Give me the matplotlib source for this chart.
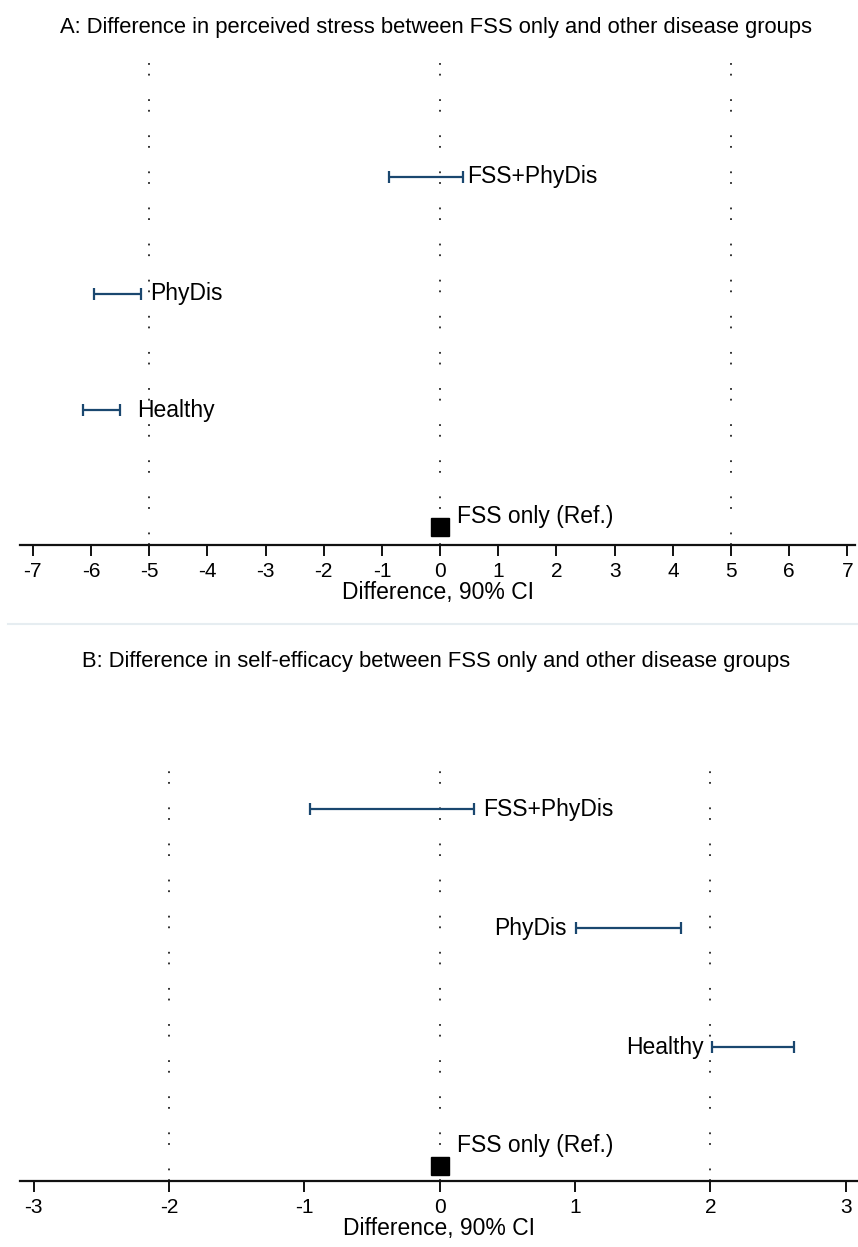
import matplotlib
matplotlib.use("Agg")
import matplotlib.pyplot as plt
from matplotlib.lines import Line2D

plt.rcParams.update({
    "font.family": ["Liberation Sans", "DejaVu Sans"],
    "lines.scale_dashes": False,
})

# ── data ─────────────────────────────────────────────────────────────────────
groups = ["FSS only (Ref.)", "Healthy", "PhyDis", "FSS+PhyDis"]
rows = [0, 1, 2, 3]

# panel A: perceived stress
a_est = [0.0]
a_lo = [-6.13, -5.95, -0.88]
a_hi = [-5.50, -5.14, 0.40]
a_lab_x = [0.29, -5.21, -4.98, 0.46]
a_lab_y = [0.09, 1.0, 2.0, 3.0]
a_lab_ha = ["left", "left", "left", "left"]
a_ticks = list(range(-7, 8))
a_vlines = [-5, 0, 5]

# panel B: self-efficacy
b_est = [0.0]
b_lo = [2.01, 1.01, -0.96]
b_hi = [2.62, 1.78, 0.25]
b_lab_x = [0.126, 1.95, 0.94, 0.32]
b_lab_y = [0.17, 1.0, 2.0, 3.0]
b_lab_ha = ["left", "right", "right", "left"]
b_ticks = list(range(-3, 4))
b_vlines = [-2, 0, 2]

CI_COLOR = "#1a476f"
W, H = 858, 1247
FS_TITLE = 15.8
FS_LAB = 16.5
FS_TICK = 15

fig = plt.figure(figsize=(W / 100, H / 100), dpi=100)


def panel(rect, title, title_y, lo, hi, est, lab_x, lab_y, lab_ha, ticks, vlines, xlim, ylim):
    ax = fig.add_axes(rect)
    ax.set_xlim(*xlim)
    ax.set_ylim(*ylim)
    for v in vlines:
        ax.axvline(v, color="#222222", lw=1.3, linestyle=(0, (1.3, 6.4, 1.3, 17)), zorder=1)
    mids = [(l + h) / 2 for l, h in zip(lo, hi)]
    errs = [[m - l for m, l in zip(mids, lo)], [h - m for m, h in zip(mids, hi)]]
    ax.errorbar(mids, rows[1:], xerr=errs, fmt="none", ecolor=CI_COLOR,
                elinewidth=1.6, capsize=4, capthick=1.6, zorder=3)
    ax.plot(est, rows[:1], marker="s", color="black", markersize=13, linestyle="none", zorder=4)
    for g, x, y, ha in zip(groups, lab_x, lab_y, lab_ha):
        ax.text(x, y, g, ha=ha, va="center", fontsize=FS_LAB, color="black")
    for s in ["top", "right", "left"]:
        ax.spines[s].set_visible(False)
    ax.spines["bottom"].set_linewidth(1.6)
    ax.spines["bottom"].set_color("#111111")
    ax.set_yticks([])
    ax.set_xticks(ticks)
    ax.set_xticklabels([str(t) for t in ticks], fontsize=FS_TICK)
    ax.tick_params(axis="x", length=8, width=1.4, pad=4, color="#111111")
    ax.set_xlabel("Difference, 90% CI", fontsize=FS_LAB, labelpad=0)
    fig.text(436 / W, 1 - title_y / H, title, ha="center", va="center", fontsize=FS_TITLE)
    return ax


panel([20 / W, 1 - 545 / H, 835 / W, 485 / H],
      "A: Difference in perceived stress between FSS only and other disease groups", 28,
      a_lo, a_hi, a_est, a_lab_x, a_lab_y, a_lab_ha, a_ticks, a_vlines,
      (-7.22, 7.13), (-0.154, 4.0))

panel([20 / W, 1 - 1181 / H, 838 / W, 429 / H],
      "B: Difference in self-efficacy between FSS only and other disease groups", 661,
      b_lo, b_hi, b_est, b_lab_x, b_lab_y, b_lab_ha, b_ticks, b_vlines,
      (-3.10, 3.09), (-0.126, 3.48))

# separator between the two panels
fig.add_artist(Line2D([8 / W, 1.0], [1 - 624 / H, 1 - 624 / H], color="#e6edf1", lw=1.5))

fig.savefig("out.png", dpi=100, facecolor="white")
